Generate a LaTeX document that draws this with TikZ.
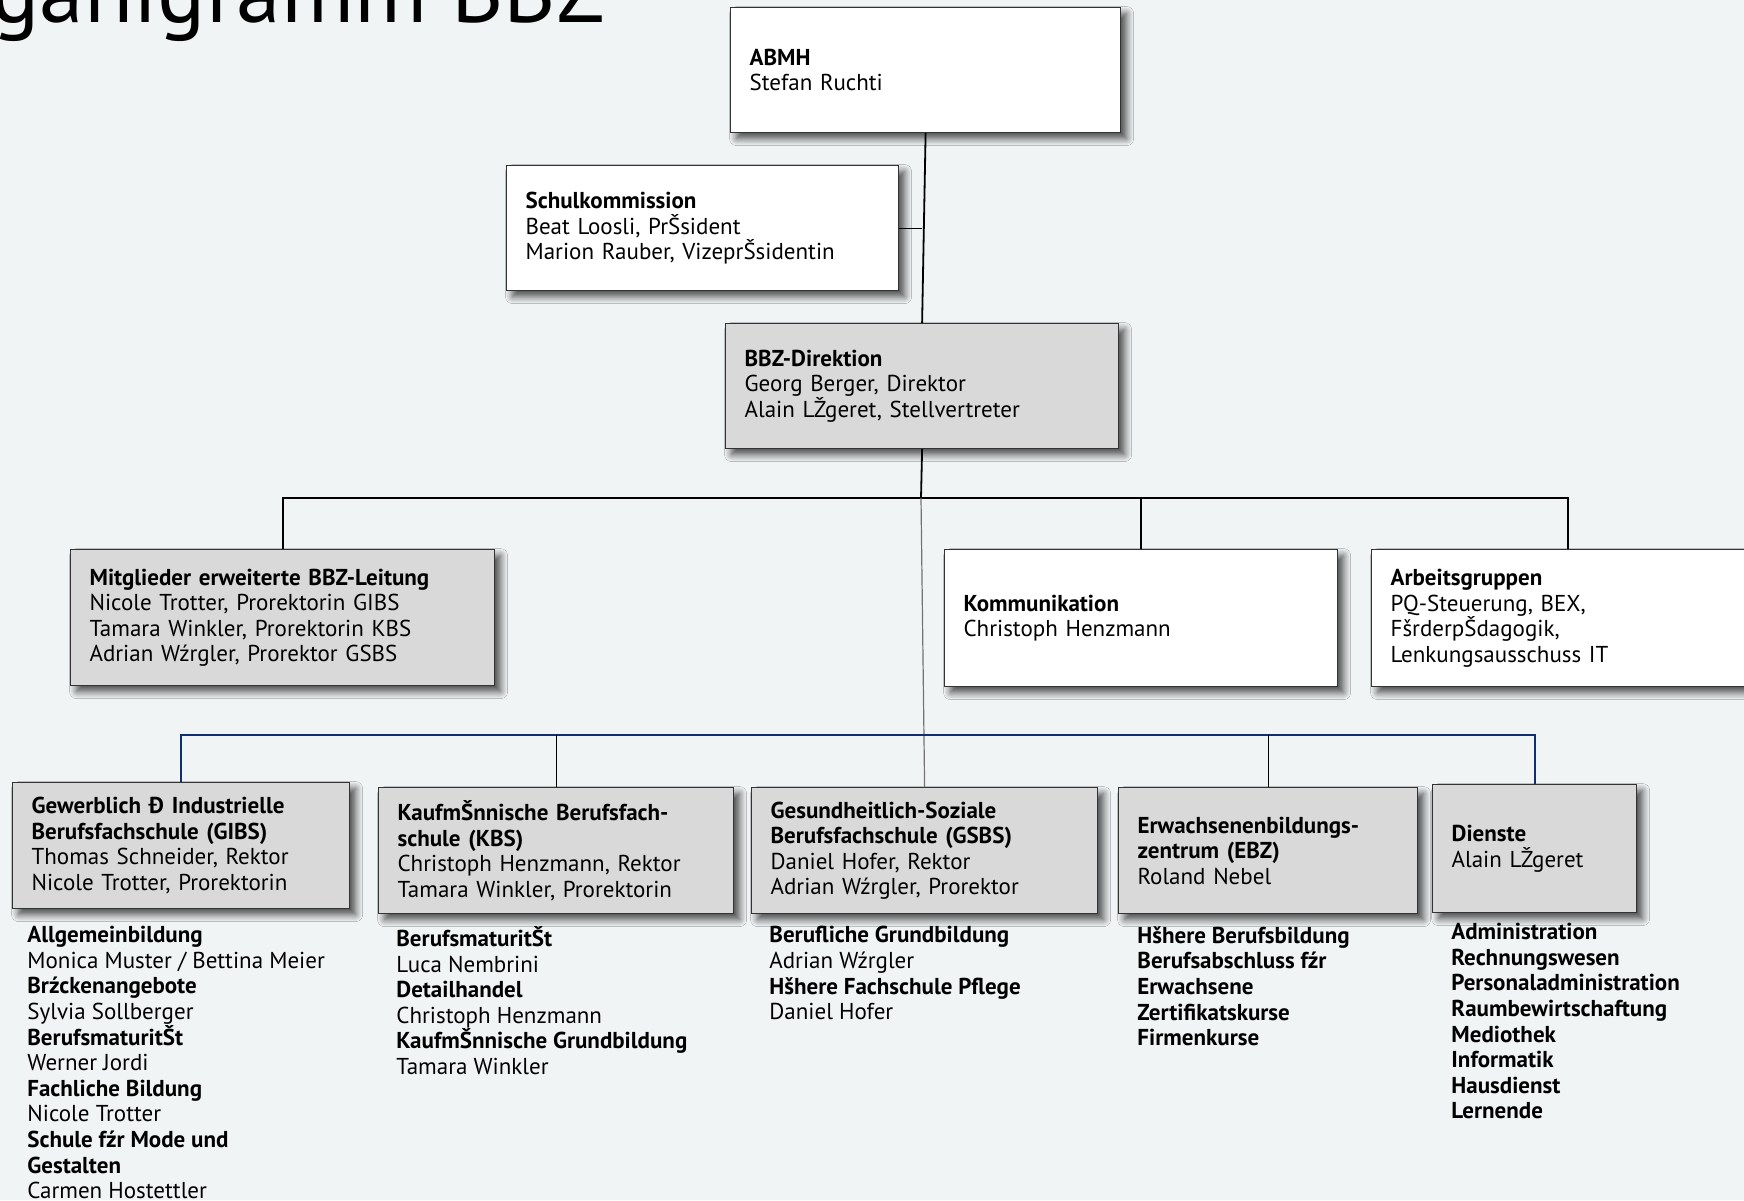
\documentclass[tikz,border=0pt]{standalone}
\usepackage{fontspec}
\setmainfont{PT Sans}
\usepackage{xcolor}
\usetikzlibrary{positioning}
\usetikzlibrary{shadows.blur}

\definecolor{bgcol}{HTML}{F1F4F5}
\definecolor{boxgray}{HTML}{D9D9D9}
\definecolor{busnavy}{RGB}{16,46,112}

\tikzset{
  orgbox/.style={draw=black!80, line width=0.6pt, fill=white, anchor=north west,
    inner xsep=9.5pt, inner ysep=0pt, align=left,
    font=\fontsize{11.5}{12.75}\selectfont,
    blur shadow={shadow xshift=3pt, shadow yshift=-3pt, shadow blur radius=3.5pt, shadow blur steps=8, shadow opacity=70}},
  graybox/.style={orgbox, fill=boxgray},
  listtext/.style={anchor=north west, inner sep=0pt, align=left,
    font=\fontsize{11.5}{12.8}\selectfont},
  link/.style={line width=0.9pt, black},
  thinlink/.style={line width=0.6pt, black},
  buslink/.style={line width=1.1pt, busnavy},
}

\begin{document}
\begin{tikzpicture}[x=0.5pt,y=-0.5pt]
				% page and background
				\useasboundingbox (0,0) rectangle (1744,1200);
				\clip (0,0) rectangle (1744,1200);
				\fill[bgcol] (0,0) rectangle (1744,1200);
				% title, cut at the top
				\node[anchor=base east, inner sep=0pt, font=\fontsize{45}{50}\selectfont] (title) at (606,22) {Organigramm BBZ};
				
				% top level
				\node[orgbox, minimum width=195pt, text width=176pt, minimum height=62.5pt] (abmh) at (730,7) {\textbf{ABMH}\\Stefan Ruchti};
				\node[orgbox, minimum width=196pt, text width=177pt, minimum height=62.5pt] (schul) at (506,165) {\textbf{Schulkommission}\\Beat Loosli, PrŠsident\\Marion Rauber, VizeprŠsidentin};
				\node[graybox, minimum width=196.5pt, text width=177.5pt, minimum height=62.5pt] (direktion) at (725,323) {\textbf{BBZ-Direktion}\\Georg Berger, Direktor\\Alain LŽgeret, Stellvertreter};
				
				% second level
				\node[graybox, minimum width=212pt, text width=193pt, minimum height=68pt] (leitung) at (70,549) {\textbf{Mitglieder erweiterte BBZ-Leitung}\\Nicole Trotter, Prorektorin GIBS\\Tamara Winkler, Prorektorin KBS\\Adrian Wźrgler, Prorektor GSBS};
				\node[orgbox, minimum width=196.5pt, text width=177.5pt, minimum height=68.5pt] (komm) at (944,549) {\textbf{Kommunikation}\\Christoph Henzmann};
				\node[orgbox, minimum width=196.5pt, text width=177.5pt, minimum height=68.5pt] (arbeit) at (1371,549) {\textbf{Arbeitsgruppen}\\PQ-Steuerung, BEX,\\FšrderpŠdagogik,\\Lenkungsausschuss IT};
				
				% schools and services
				\node[graybox, minimum width=168.5pt, text width=149.5pt, minimum height=63pt] (gibs) at (12,782) {\textbf{Gewerblich Ð Industrielle}\\\textbf{Berufsfachschule (GIBS)}\\Thomas Schneider, Rektor\\Nicole Trotter, Prorektorin};
				\node[graybox, minimum width=177.5pt, text width=158.5pt, minimum height=63pt] (kbs) at (378,787) {\textbf{KaufmŠnnische Berufsfach-}\\\textbf{schule (KBS)}\\Christoph Henzmann, Rektor\\Tamara Winkler, Prorektorin};
				\node[graybox, minimum width=173pt, text width=154pt, minimum height=63pt] (gsbs) at (751,787) {\textbf{Gesundheitlich-Soziale}\\\textbf{Berufsfachschule (GSBS)}\\Daniel Hofer, Rektor\\Adrian Wźrgler, Prorektor};
				\node[graybox, minimum width=149.5pt, text width=130.5pt, minimum height=63pt] (ebz) at (1118,787) {\textbf{Erwachsenenbildungs-}\\\textbf{zentrum (EBZ)}\\Roland Nebel};
				\node[graybox, minimum width=102pt, text width=83pt, minimum height=64pt] (dienste) at (1432,784) {\textbf{Dienste}\\Alain LŽgeret};
				
				% lists below the boxes
				\node[listtext] (gibslist) at (27,926) {\textbf{Allgemeinbildung}\\Monica Muster / Bettina Meier\\\textbf{Brźckenangebote}\\Sylvia Sollberger\\\textbf{BerufsmaturitŠt}\\Werner Jordi\\\textbf{Fachliche Bildung}\\Nicole Trotter\\\textbf{Schule fźr Mode und}\\\textbf{Gestalten}\\Carmen Hostettler};
				\node[listtext] (kbslist) at (396,926) {\textbf{BerufsmaturitŠt}\\Luca Nembrini\\\textbf{Detailhandel}\\Christoph Henzmann\\\textbf{KaufmŠnnische Grundbildung}\\Tamara Winkler};
				\node[listtext] (gsbslist) at (769,926) {\textbf{Berufliche Grundbildung}\\Adrian Wźrgler\\\textbf{Hšhere Fachschule Pflege}\\Daniel Hofer};
				\node[listtext, font=\bfseries\fontsize{11.5}{12.8}\selectfont] (ebzlist) at (1137,926) {Hšhere Berufsbildung\\Berufsabschluss fźr\\Erwachsene\\Zertifikatskurse\\Firmenkurse};
				\node[listtext, font=\bfseries\fontsize{11.5}{12.8}\selectfont] (dienstelist) at (1451,923) {Administration\\Rechnungswesen\\Personaladministration\\Raumbewirtschaftung\\Mediothek\\Informatik\\Hausdienst\\Lernende};
				
				% connectors
				\coordinate (topbus) at (921,498);
				\coordinate (lowbus) at (921,735);
				\draw[link] (abmh.south) -- (direktion.north);
				\draw[thinlink] (schul.east) -- (schul.east -| direktion.north);
				\draw[link] (direktion.south) -- (topbus);
				\draw[link] (leitung.north) |- (arbeit.north |- topbus) -- (arbeit.north);
				\draw[link] (komm.north) -- (komm.north |- topbus);
				\draw[line width=0.6pt, black!55] (topbus) -- (gsbs.north);
				\draw[buslink] (gibs.north) |- (dienste.north |- lowbus) -- (dienste.north);
				\draw[thinlink] (kbs.north) -- (kbs.north |- lowbus);
				\draw[thinlink] (ebz.north) -- (ebz.north |- lowbus);
			\end{tikzpicture}
\end{document}
